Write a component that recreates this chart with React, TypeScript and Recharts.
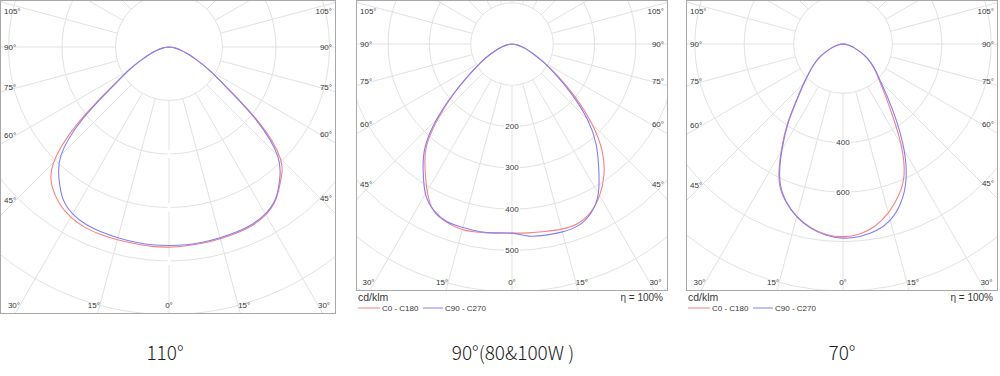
import React from "react";
import { Curve, PolarAngleAxis, PolarGrid, PolarRadiusAxis, Radar, RadarChart } from "recharts";

// gamma angles (deg from nadir) at which the curves were read
const GAMMA = [0, 5, 10, 15, 20, 25, 30, 35, 40, 45, 50, 55, 60, 65, 70, 75, 80, 85, 90];

// 110° lens, cd/klm
const W110_C0 = [374, 373, 372, 371, 370, 368, 362, 348, 325, 294, 220, 133, 89, 56, 36, 22, 12, 5, 0];
const W110_C180 = [374, 374, 373, 373, 373, 372, 367, 357, 340, 305, 224, 132, 88, 56, 36, 22, 12, 5, 0];
const W110_C90 = [371, 371, 370, 369, 368, 366, 360, 347, 322, 287, 214, 130, 88, 56, 36, 22, 12, 5, 0];
const W110_C270 = [371, 371, 370, 369, 368, 366, 360, 346, 320, 285, 213, 128, 87, 56, 36, 22, 12, 5, 0];

// 90° lens (80 & 100W)
const W90_C0 = [458, 459, 461, 464, 463, 450, 424, 388, 340, 274, 200, 135, 90, 58, 38, 23, 12, 5, 0];
const W90_C180 = [458, 460, 463, 465, 460, 447, 411, 367, 322, 250, 178, 120, 84, 56, 37, 23, 12, 5, 0];
const W90_C90 = [458, 467, 470, 471, 468, 452, 418, 366, 317, 258, 188, 130, 88, 57, 38, 23, 12, 5, 0];
const W90_C270 = [458, 459, 461, 460, 458, 446, 419, 375, 328, 258, 180, 121, 85, 56, 37, 23, 12, 5, 0];

// 70° lens
const W70_C0 = [780, 772, 748, 708, 655, 585, 470, 345, 262, 208, 172, 142, 112, 80, 52, 32, 17, 7, 0];
const W70_C180 = [780, 774, 754, 722, 678, 612, 500, 390, 290, 225, 178, 143, 112, 80, 52, 32, 17, 7, 0];
const W70_C90 = [786, 782, 768, 738, 684, 604, 494, 375, 280, 215, 176, 142, 112, 80, 52, 32, 17, 7, 0];
const W70_C270 = [784, 777, 757, 724, 676, 606, 494, 384, 285, 222, 177, 143, 112, 80, 52, 32, 17, 7, 0];

const SPOKES = [0, 15, 30, 45, 60, 75, 90, 105, 120, 135, 150, 165, 180, 195, 210, 225, 240, 255, 270, 285, 300, 315, 330, 345];
const ANGLE_LABELS = [0, 15, 30, 45, 60, 75, 90, 105];

const RINGS_110 = [100, 200, 300, 400, 500, 600];
const RINGS_90 = [100, 200, 300, 400, 500, 600, 700, 800];
const RINGS_70 = [200, 400, 600, 800, 1000, 1200];

const LABELS_90 = [200, 300, 400, 500];
const LABELS_70 = [400, 600];
const BREAKS_110 = [200, 300, 400];

const CAPTIONS = ["110°", "90°(80&100W )", "70°"];
const SERIES = ["C0 - C180", "C90 - C270"];

const RED = "#f88080";
const BLUE = "#8080f8";
const GRID = "#e2e2e2";
const FRAME = "#a8a8a8";
const INK = "#383838";
const SMALL = "'Liberation Sans', Arial, sans-serif";

// theta runs 0..360 round the chart: right half = C0 / C90, left half = C180 / C270
function toRows(c0: number[], c180: number[], c90: number[], c270: number[]) {
  const right = GAMMA.map((g, i) => ({ theta: g, red: c0[i], blue: c90[i] }));
  const left = GAMMA.map((g, i) => ({ theta: 360 - g, red: c180[i], blue: c270[i] }))
    .filter((r) => r.theta < 360)
    .reverse();
  return [...right, ...left];
}

// draw the radar outline as a smooth curve starting at the luminaire (left γ=90)
const smoothShape = (color: string) => (props: any) => {
  const pts = props.points || [];
  const k = pts.findIndex((p: any) => p.payload?.theta >= 180);
  const ordered = k > 0 ? [...pts.slice(k), ...pts.slice(0, k)] : pts;
  return <Curve points={ordered} type="natural" stroke={color} strokeWidth={1.1} fill="none" />;
};

type PanelProps = {
  width: number;
  height: number;
  cx: number;
  cy: number;
  ringPx: number;
  rings: number[];
  rows: { theta: number; red: number; blue: number }[];
  labels: number[];
  breaks: number[];
};

function PhotometricPanel({ width, height, cx, cy, ringPx, rings, rows, labels, breaks }: PanelProps) {
  const angleTick = (props: any) => {
    const theta = Number(props.payload?.value);
    const gamma = theta <= 180 ? theta : 360 - theta;
    if (theta >= 360 || !ANGLE_LABELS.includes(gamma)) return <g />;
    const a = ((props.payload?.coordinate ?? theta - 90) * Math.PI) / 180;
    const dx = Math.cos(a);
    const dy = -Math.sin(a);
    const left = 15;
    const right = width - 15;
    const bottom = height - 8;
    let t = Infinity;
    let onSide = false;
    if (dx < -1e-6 && (left - cx) / dx < t) { t = (left - cx) / dx; onSide = true; }
    if (dx > 1e-6 && (right - cx) / dx < t) { t = (right - cx) / dx; onSide = true; }
    if (dy > 1e-6 && (bottom - cy) / dy < t) { t = (bottom - cy) / dy; onSide = false; }
    let x = cx + t * dx;
    const y = Math.max(10, cy + t * dy);
    let anchor = Math.abs(dx) < 1e-6 ? "middle" : dx < 0 ? "end" : "start";
    if (onSide) {
      x = dx < 0 ? 3 : width - 3;
      anchor = dx < 0 ? "start" : "end";
    }
    return (
      <text x={x} y={y} textAnchor={anchor} dominantBaseline="central" fontSize={8} fontFamily={SMALL} fill={INK}>
        {`${gamma}°`}
      </text>
    );
  };

  const radiusTick = (props: any) => {
    const v = Number(props.payload?.value);
    const showText = labels.includes(v);
    if (!showText && !breaks.includes(v)) return <g />;
    return (
      <g>
        <rect x={props.x - (showText ? 8 : 1.5)} y={props.y - 4} width={showText ? 16 : 3} height={8} fill="#fff" />
        {showText && (
          <text x={props.x} y={props.y} textAnchor="middle" dominantBaseline="central" fontSize={8} fontFamily={SMALL} fill={INK}>
            {v}
          </text>
        )}
      </g>
    );
  };

  return (
    <RadarChart
      width={width}
      height={height}
      data={rows}
      cx={cx}
      cy={cy}
      innerRadius={ringPx}
      outerRadius={ringPx * rings.length}
      startAngle={-90}
      endAngle={270}
      margin={{ top: 0, right: 0, bottom: 0, left: 0 }}
    >
      <PolarGrid gridType="circle" stroke={GRID} strokeWidth={1} />
      <PolarAngleAxis
        dataKey="theta"
        type="number"
        domain={[0, 360]}
        ticks={SPOKES}
        tickCount={25}
        axisLine={false}
        tickLine={false}
        tick={angleTick}
      />
      <PolarRadiusAxis
        angle={-90}
        type="number"
        domain={[rings[0], rings[rings.length - 1]]}
        ticks={rings}
        tickCount={rings.length}
        allowDataOverflow
        axisLine={false}
        tickLine={false}
        tick={radiusTick}
      />
      <Radar name={SERIES[0]} dataKey="red" stroke={RED} fill="none" dot={false} isAnimationActive={false} shape={smoothShape(RED)} />
      <Radar name={SERIES[1]} dataKey="blue" stroke={BLUE} fill="none" dot={false} isAnimationActive={false} shape={smoothShape(BLUE)} />
    </RadarChart>
  );
}

function Legend({ left, right }: { left: number; right: number }) {
  return (
    <g fontFamily={SMALL} fill={INK}>
      <text x={left + 2} y={301} fontSize={10.5}>cd/klm</text>
      <text x={right - 4} y={301} fontSize={10} textAnchor="end">η = 100%</text>
      <line x1={left + 2} x2={left + 24} y1={308} y2={308} stroke={RED} strokeWidth={1} />
      <text x={left + 26} y={310.5} fontSize={8}>{SERIES[0]}</text>
      <line x1={left + 67} x2={left + 87} y1={308} y2={308} stroke={BLUE} strokeWidth={1} />
      <text x={left + 89} y={310.5} fontSize={8}>{SERIES[1]}</text>
    </g>
  );
}

const frame = (left: number, top: number, w: number, h: number): React.CSSProperties => ({
  position: "absolute",
  left,
  top,
  width: w,
  height: h,
  border: `1px solid ${FRAME}`,
  boxSizing: "border-box",
  overflow: "hidden",
});

export default function App() {
  return (
    <div style={{ position: "absolute", left: 0, top: 0, width: 1000, height: 376, background: "#fff" }}>
      <div style={frame(0, 0, 336, 314)}>
        <PhotometricPanel
          width={334}
          height={312}
          cx={168}
          cy={46}
          ringPx={53.5}
          rings={RINGS_110}
          rows={toRows(W110_C0, W110_C180, W110_C90, W110_C270)}
          labels={[]}
          breaks={BREAKS_110}
        />
      </div>
      <div style={frame(356, 0, 312, 291)}>
        <PhotometricPanel
          width={310}
          height={289}
          cx={155}
          cy={43}
          ringPx={41.3}
          rings={RINGS_90}
          rows={toRows(W90_C0, W90_C180, W90_C90, W90_C270)}
          labels={LABELS_90}
          breaks={[]}
        />
      </div>
      <div style={frame(686, 0, 312, 291)}>
        <PhotometricPanel
          width={310}
          height={289}
          cx={156}
          cy={43}
          ringPx={49.4}
          rings={RINGS_70}
          rows={toRows(W70_C0, W70_C180, W70_C90, W70_C270)}
          labels={LABELS_70}
          breaks={[]}
        />
      </div>
      <svg width={1000} height={376} style={{ position: "absolute", left: 0, top: 0, pointerEvents: "none" }}>
        <Legend left={356} right={667} />
        <Legend left={686} right={997} />
        <g fontFamily="'Noto Sans CJK SC', 'Noto Sans', sans-serif" fontWeight={300} fontSize={19} fill="#222" textAnchor="middle">
          <text x={165} y={360}>{CAPTIONS[0]}</text>
          <text x={513} y={360}>{CAPTIONS[1]}</text>
          <text x={842} y={360}>{CAPTIONS[2]}</text>
        </g>
      </svg>
    </div>
  );
}
